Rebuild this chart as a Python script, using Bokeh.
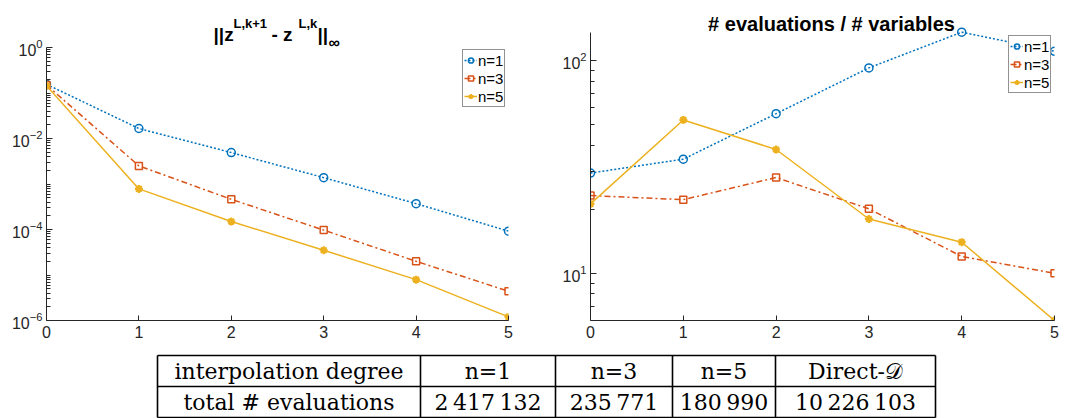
from bokeh.plotting import figure
from bokeh.models import (Range1d, FixedTicker, Legend, LegendItem,
                          ColumnDataSource)
from bokeh.layouts import column, row
from bokeh.embed import file_html
from bokeh.resources import INLINE
from bokeh.core.properties import value

# ---------------- data ----------------
iterations = [0, 1, 2, 3, 4, 5]
series_labels = ["n=1", "n=3", "n=5"]
err_n1 = [0.155, 0.0166, 0.0049, 0.00138, 3.7e-4, 9.2e-5]
err_n3 = [0.15, 2.5e-3, 4.6e-4, 9.7e-5, 2.0e-5, 4.4e-6]
err_n5 = [0.145, 7.8e-4, 1.5e-4, 3.5e-5, 7.9e-6, 1.2e-6]
ratio_n1 = [29.6, 34.4, 56.3, 92.4, 136.0, 110.6]
ratio_n3 = [23.2, 22.2, 28.2, 20.1, 12.0, 10.0]
ratio_n5 = [21.2, 52.6, 38.2, 18.0, 14.0, 6.0]
left_title_parts = ["||z", "L,k+1", "- z", "L,k", "||", "\u221e"]
right_title = "# evaluations / # variables"
table_header = ["interpolation degree", "n=1", "n=3", "n=5", "Direct-\U0001D49F"]
table_values = ["total # evaluations", "2\u2009417\u2009132", "235\u2009771",
                "180\u2009990", "10\u2009226\u2009103"]

# ---------------- style ----------------
COLORS = ["#0072BD", "#D95319", "#EDB120"]
DASHES = ["2 2", "6 3 2 3", "solid"]
AX = "#262626"
FONT = "Liberation Sans"

ERR_BOUNDS = (1e-6, 1.0)
RATIO_BOUNDS = (6.0, 136.0)


def style_axes(p, ybounds):
    p.outline_line_color = None
    p.background_fill_color = "white"
    p.border_fill_color = "white"
    p.xgrid.visible = False
    p.ygrid.visible = False
    for ax in (p.xaxis[0], p.yaxis[0]):
        ax.axis_line_color = AX
        ax.axis_line_width = 1
        ax.major_tick_line_color = AX
        ax.minor_tick_line_color = AX
        ax.major_tick_out = 0
        ax.minor_tick_out = 0
        ax.major_label_text_font = FONT
        ax.major_label_text_font_size = "16px"
        ax.major_label_text_color = AX
    p.xaxis.major_tick_in = 5
    p.yaxis.major_tick_in = 6
    p.yaxis.minor_tick_in = 4
    p.xaxis.major_label_standoff = 5
    p.yaxis.major_label_standoff = 4
    p.yaxis.bounds = ybounds
    p.xaxis.ticker = FixedTicker(ticks=iterations)


def add_series(p, ys_list):
    items = []
    for idx, (ys, lab, col, dash) in enumerate(zip(ys_list, series_labels, COLORS, DASHES)):
        src = ColumnDataSource(dict(x=iterations, y=ys))
        r_line = p.line("x", "y", source=src, line_color=col, line_width=1.5,
                        line_dash=dash)
        if idx == 0:
            r_m = p.scatter("x", "y", source=src, marker="circle", size=8,
                            line_color=col, line_width=1.5, fill_color=None)
        elif idx == 1:
            r_m = p.scatter("x", "y", source=src, marker="square", size=7,
                            line_color=col, line_width=1.5, fill_color=None)
        else:
            r_m = p.scatter("x", "y", source=src, marker="asterisk", size=8,
                            line_color=col, line_width=2.2, fill_color=col)
        items.append(LegendItem(label=lab, renderers=[r_line, r_m]))
    return items


def make_legend(items, loc):
    lg = Legend(items=items, location=loc)
    lg.margin = 0
    lg.padding = 1
    lg.spacing = 0
    lg.glyph_width = 13
    lg.glyph_height = 18
    lg.label_height = 18
    lg.label_standoff = 1
    lg.label_text_font = FONT
    lg.label_text_font_size = "15px"
    lg.label_text_color = "black"
    lg.border_line_color = AX
    lg.border_line_width = 1
    lg.background_fill_color = "white"
    lg.background_fill_alpha = 1
    return lg


# ---------------- left plot ----------------
p1 = figure(frame_width=462, frame_height=320, y_axis_type="log",
            x_range=Range1d(0, 5), y_range=Range1d(1e-6, 10 ** (-6 + 320 / 45.5)),
            output_backend="svg", toolbar_location=None,
            min_border_left=46, min_border_right=42, min_border_top=0,
            min_border_bottom=25)
style_axes(p1, ERR_BOUNDS)
major1 = [10.0 ** e for e in (-6, -4, -2, 0)]
minor1 = []
for e in range(-6, 0):
    for m in range(1, 10):
        if m == 1 and e % 2 == 0:
            continue
        minor1.append(m * 10.0 ** e)
p1.yaxis.ticker = FixedTicker(ticks=major1, minor_ticks=minor1)
items1 = add_series(p1, [err_n1, err_n3, err_n5])
p1.add_layout(make_legend(items1, (416, 213)))

# composite title ||z^{L,k+1} - z^{L,k}||_inf, anchored at the top-left of the axis
n_parts = len(left_title_parts)
title_src = ColumnDataSource(dict(
    x=[0] * n_parts, y=[ERR_BOUNDS[1]] * n_parts, t=left_title_parts,
    xo=[167, 187, 225, 252, 271, 282],
    yo=[-13, -24, -13, -24, -13, -5],
    fs=["19px", "13px", "19px", "13px", "19px", "16px"],
))
p1.text(x="x", y="y", text="t", x_offset="xo", y_offset="yo",
        text_font_size="fs", source=title_src, text_font=value(FONT),
        text_font_style="bold", text_color="black", text_align="left",
        text_baseline="alphabetic")

# ---------------- right plot ----------------
lo_r = 0.778
p2 = figure(frame_width=464, frame_height=320, y_axis_type="log",
            x_range=Range1d(0, 5),
            y_range=Range1d(6.0, 10 ** (lo_r + 320 / 212.7)),
            output_backend="svg", toolbar_location=None,
            min_border_left=40, min_border_right=30, min_border_top=0,
            min_border_bottom=25)
style_axes(p2, RATIO_BOUNDS)
p2.yaxis.ticker = FixedTicker(ticks=[10, 100],
                              minor_ticks=[7, 8, 9, 20, 30, 40, 50, 60, 70, 80, 90])
items2 = add_series(p2, [ratio_n1, ratio_n3, ratio_n5])
p2.add_layout(make_legend(items2, (418, 227)))
p2.text(x=[2.5], y=[RATIO_BOUNDS[1]], text=[right_title], x_offset=9, y_offset=-8,
        text_font=value(FONT), text_font_style="bold", text_font_size="20px",
        text_color="black", text_align="center", text_baseline="alphabetic")

# ---------------- table ----------------
col_edges = [157, 420, 555, 672, 775, 935]
row_edges = [355, 386, 417]
pt = figure(width=1084, height=73, x_range=Range1d(0, 1084),
            y_range=Range1d(418, 345), output_backend="svg",
            toolbar_location=None, min_border=0)
pt.axis.visible = False
pt.grid.visible = False
pt.outline_line_color = None
pt.background_fill_color = "white"
pt.border_fill_color = "white"

for yv in row_edges:
    pt.line([col_edges[0], col_edges[-1]], [yv, yv], line_color="black", line_width=1.6)
for xv in col_edges:
    pt.line([xv, xv], [row_edges[0], row_edges[-1]], line_color="black", line_width=1.6)

xs, ys, texts = [], [], []
for r, cells in enumerate([table_header, table_values]):
    for c, t in enumerate(cells):
        xs.append((col_edges[c] + col_edges[c + 1]) / 2)
        ys.append((row_edges[r] + row_edges[r + 1]) / 2)
        texts.append(t)
pt.text(x="x", y="y", text="t", source=ColumnDataSource(dict(x=xs, y=ys, t=texts)),
        text_font=value("DejaVu Serif"), text_font_size="22px",
        text_align="center", text_baseline="middle", text_color="black")

layout = column(row(p1, p2, spacing=0), pt, spacing=0)
open("out.html", "w").write(file_html(layout, INLINE))
